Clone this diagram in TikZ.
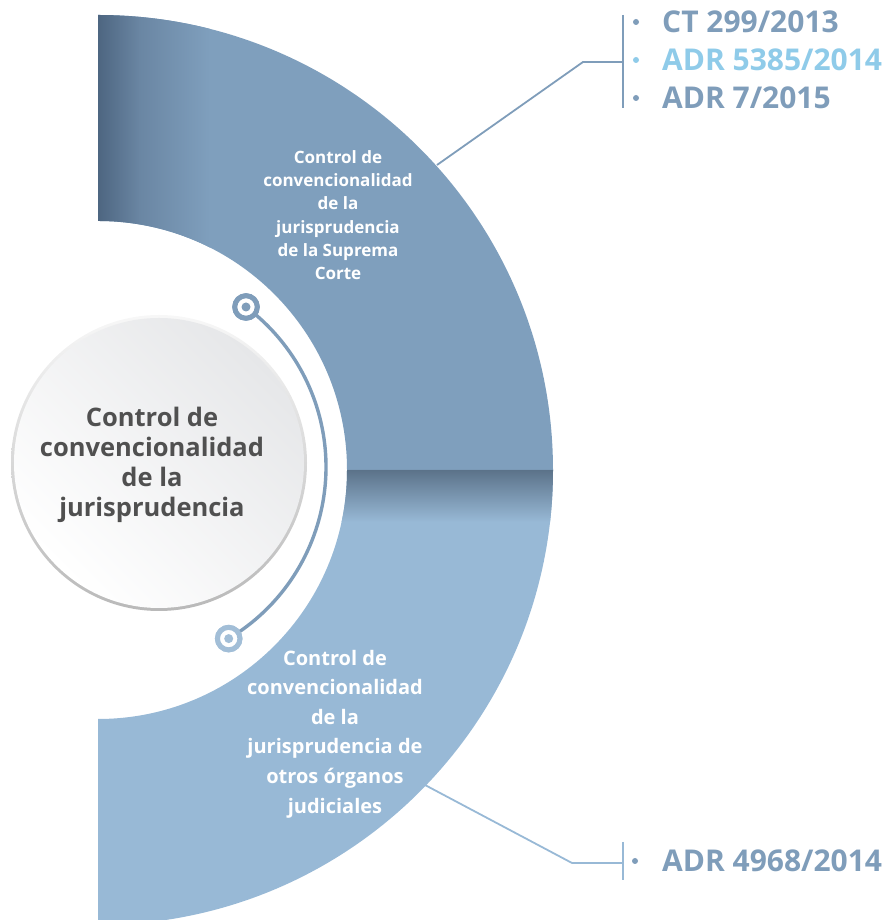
\documentclass[tikz,border=0pt]{standalone}
\usepackage{fontspec}
\setmainfont{Open Sans}
\definecolor{bandA}{HTML}{7F9FBD}
\definecolor{bandAdark}{HTML}{4D6580}
\definecolor{bandAmid}{HTML}{6A86A3}
\definecolor{bandB}{HTML}{98B9D6}
\definecolor{bandBdark}{HTML}{5A7188}
\definecolor{labA}{HTML}{7F9DBA}
\definecolor{labB}{HTML}{8FCBE9}
\definecolor{txtgray}{HTML}{505050}
\definecolor{lineA}{HTML}{7F9DBA}
\definecolor{lineB}{HTML}{98B9D6}
\definecolor{ringB}{HTML}{A2BED7}
\definecolor{discA}{HTML}{E6E7E9}
\tikzset{
  bandtext/.style={text=white, align=center, font=\bfseries#1},
  ringnode/.style={circle, draw=#1, line width=5pt, fill=white, minimum size=22.5pt, inner sep=0pt},
  dotnode/.style={circle, fill=#1, minimum size=9pt, inner sep=0pt},
  bulletnode/.style={circle, fill=#1, minimum size=6pt, inner sep=0pt},
  lab/.style={anchor=west, inner sep=0pt, font=\bfseries\fontsize{30}{34}\selectfont},
  conA/.style={draw=lineA, line width=1.8pt},
  conB/.style={draw=lineB, line width=1.8pt},
  arcline/.style={draw=lineA, line width=3.4pt}
}
\begin{document}
\begin{tikzpicture}[x=1pt,y=1pt]
\useasboundingbox (0,0) rectangle (894,920);
\begin{scope}
\clip (0,0) rectangle (894,920);
% upper band
\begin{scope}
\clip (98,905) arc[start angle=90,end angle=0,radius=455pt] -- (347,450) arc[start angle=0,end angle=90,radius=249pt] -- cycle;
\fill[bandA] (90,440) rectangle (560,910);
\shade[left color=bandAdark, right color=bandAmid] (97,440) rectangle (140,910);
\shade[left color=bandAmid, right color=bandA] (139.5,440) rectangle (210,910);
\end{scope}
% lower band
\begin{scope}
\clip (553,450) arc[start angle=0,end angle=-90,radius=455pt] -- (98,201) arc[start angle=-90,end angle=0,radius=249pt] -- cycle;
\fill[bandB] (90,-10) rectangle (560,451);
\shade[top color=bandBdark, bottom color=bandB] (90,398) rectangle (560,451);
\end{scope}
\end{scope}
% central disc
\shade[top color=gray!6, bottom color=gray!55] (159,457) circle (148pt);
\shade[top color=discA, bottom color=white, shading angle=-45] (159,457) circle (145pt);
\node[align=center, text=txtgray, font=\bfseries\fontsize{25.5}{30}\selectfont] (center) at (152,455)
  {Control de\\convencionalidad\\de la\\jurisprudencia};
% arc with rings
\node[ringnode=lineA] (ringtop) at (246,613) {};
\node[ringnode=ringB] (ringbot) at (228.7,281.4) {};
\draw[arcline] (ringtop.center) arc[start angle=53.13, end angle=-59.1, radius=200pt];
\node[ringnode=lineA] at (ringtop.center) {};
\node[ringnode=ringB] at (ringbot.center) {};
\node[dotnode=lineA] (dottop) at (ringtop.center) {};
\node[dotnode=ringB] (dotbot) at (ringbot.center) {};
% band texts
\node[bandtext=\fontsize{17}{23.3}\selectfont] (supreme) at (338,705)
  {Control de\\convencionalidad\\de la\\jurisprudencia\\de la Suprema\\Corte};
\node[bandtext=\fontsize{20}{29.6}\selectfont] (others) at (335,186)
  {Control de\\convencionalidad\\de la\\jurisprudencia de\\otros órganos\\judiciales};
% upper connector
\coordinate (u0) at (437,755);
\coordinate (u1) at (583,858);
\coordinate (u2) at (623,858);
\coordinate (ubt) at (623,905);
\coordinate (ubb) at (623,812);
\draw[conA] (u0) -- (u1) -- (u2);
\draw[conA] (ubt) -- (ubb);
\node[bulletnode=labA] (b1) at (636,898) {};
\node[bulletnode=labB] (b2) at (636,860) {};
\node[bulletnode=labA] (b3) at (636,822) {};
\node[lab, text=labA] (l1) at (662,898) {CT 299/2013};
\node[lab, text=labB] (l2) at (662,860) {ADR 5385/2014};
\node[lab, text=labA] (l3) at (662,822) {ADR 7/2015};
% lower connector
\coordinate (d0) at (425,135);
\coordinate (d1) at (572,57);
\coordinate (d2) at (623,57);
\coordinate (dbt) at (623,78);
\coordinate (dbb) at (623,40);
\draw[conB] (d0) -- (d1) -- (d2);
\draw[conB] (dbt) -- (dbb);
\node[bulletnode=labA] (b4) at (635,59) {};
\node[lab, text=labA] (l4) at (662,59) {ADR 4968/2014};
\end{tikzpicture}
\end{document}
